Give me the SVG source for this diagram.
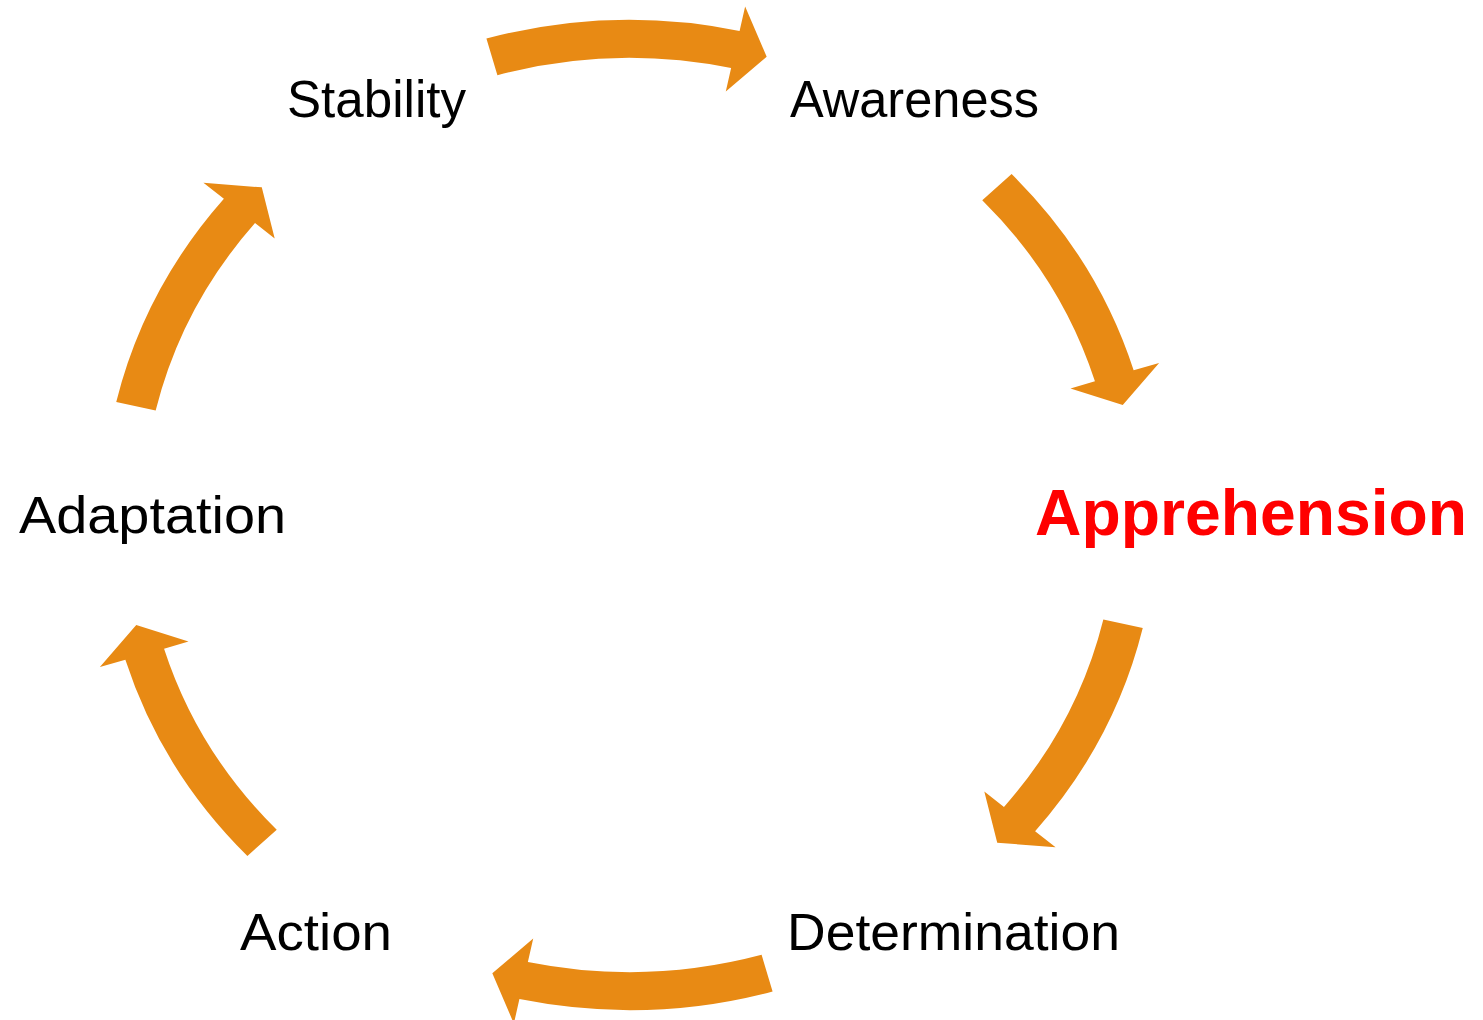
<svg xmlns="http://www.w3.org/2000/svg" width="1483" height="1020" viewBox="0 0 1483 1020">
<style>
.arrow{fill:#E88A14;stroke:none}
.lbl{font-family:"Liberation Sans",Arial,sans-serif;font-size:52px;fill:#000000}
.hl{font-family:"Liberation Sans",Arial,sans-serif;font-size:64px;font-weight:bold;fill:#FF0000}
</style>
<rect width="1483" height="1020" fill="#FFFFFF"/>
<g id="connectors" transform="translate(629.5,515) scale(1.065,1)">
  <path id="arrow-stability-awareness" class="arrow" d="M-134.35,-476.44 A495,495 0 0 1 103.36,-484.11 L108.58,-508.56 L128.81,-458.25 L90.41,-423.47 L95.42,-446.95 A457,457 0 0 0 -124.03,-439.86 Z"/>
  <path id="arrow-awareness-apprehension" class="arrow" d="M358.78,-341.01 A495,495 0 0 1 473.37,-144.74 L497.28,-152.05 L463.15,-109.91 L414.08,-126.61 L437.03,-133.63 A457,457 0 0 0 331.23,-314.83 Z"/>
  <path id="arrow-apprehension-determination" class="arrow" d="M481.93,113.06 A495,495 0 0 1 380.85,316.21 L400.09,332.18 L345.29,327.68 L333.15,276.60 L351.62,291.93 A457,457 0 0 0 444.93,104.38 Z"/>
  <path id="arrow-determination-action" class="arrow" transform="rotate(180)" d="M-134.35,-476.44 A495,495 0 0 1 103.36,-484.11 L108.58,-508.56 L128.81,-458.25 L90.41,-423.47 L95.42,-446.95 A457,457 0 0 0 -124.03,-439.86 Z"/>
  <path id="arrow-action-adaptation" class="arrow" transform="rotate(180)" d="M358.78,-341.01 A495,495 0 0 1 473.37,-144.74 L497.28,-152.05 L463.15,-109.91 L414.08,-126.61 L437.03,-133.63 A457,457 0 0 0 331.23,-314.83 Z"/>
  <path id="arrow-adaptation-stability" class="arrow" transform="rotate(180)" d="M481.93,113.06 A495,495 0 0 1 380.85,316.21 L400.09,332.18 L345.29,327.68 L333.15,276.60 L351.62,291.93 A457,457 0 0 0 444.93,104.38 Z"/>
</g>
<g id="node-stability"><text class="lbl" x="287" y="117" textLength="179" lengthAdjust="spacingAndGlyphs">Stability</text></g>
<g id="node-awareness"><text class="lbl" x="790" y="117" textLength="249" lengthAdjust="spacingAndGlyphs">Awareness</text></g>
<g id="node-apprehension"><text class="hl" x="1035" y="535" textLength="432" lengthAdjust="spacingAndGlyphs">Apprehension</text></g>
<g id="node-determination"><text class="lbl" x="787" y="950" textLength="333" lengthAdjust="spacingAndGlyphs">Determination</text></g>
<g id="node-action"><text class="lbl" x="240" y="950" textLength="152" lengthAdjust="spacingAndGlyphs">Action</text></g>
<g id="node-adaptation"><text class="lbl" x="19" y="533" textLength="267" lengthAdjust="spacingAndGlyphs">Adaptation</text></g>
</svg>
